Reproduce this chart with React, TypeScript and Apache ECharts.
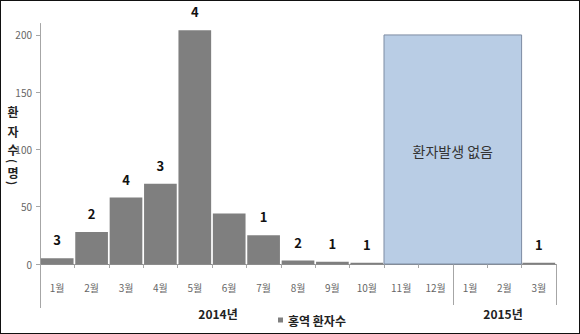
import React, { useEffect, useRef } from "react";
import * as echarts from "echarts";

const months = ["1월", "2월", "3월", "4월", "5월", "6월", "7월", "8월", "9월", "10월", "11월", "12월", "1월", "2월", "3월"];
const patients = [5, 28, 58, 70, 204, 44, 25, 3, 2, 1, 0, 0, 0, 0, 1];
const outbreaks: (number | null)[] = [3, 2, 4, 3, 4, null, 1, 2, 1, 1, null, null, null, null, 1];
const noCaseSpan = [[10, 13, 200]];
const noCaseText = "환자발생 없음";
const years = ["2014년", "2015년"];
const seriesName = "홍역 환자수";
const yAxisNameChars = ["환", "자", "수", "(", "명", ")"];

const W = 580;
const H = 334;
const GL = 40;
const GR = 24;
const GT = 23.5;
const GB = 70;
const KR = "'Noto Sans CJK KR', 'Noto Sans', sans-serif";

export default function App() {
  const ref = useRef<HTMLDivElement>(null);
  useEffect(() => {
    if (!ref.current) return;
    const chart = echarts.init(ref.current, null, { renderer: "svg" });
    const cw = (W - GL - GR) / months.length;
    const axisY = H - GB;
    const sepX = [GL, GL + 12 * cw, W - GR];
    const nameYs = [111, 131, 149, 161, 172, 183];
    chart.setOption({
      animation: false,
      backgroundColor: "#ffffff",
      grid: { left: GL, right: GR, top: GT, bottom: GB },
      legend: {
        left: 278,
        top: 314,
        padding: 0,
        itemWidth: 5,
        itemHeight: 5,
        icon: "rect",
        textStyle: { fontFamily: KR, fontSize: 12, fontWeight: "bold", color: "#222" },
        data: [seriesName],
      },
      xAxis: {
        type: "category",
        data: months,
        axisLine: { show: true, lineStyle: { color: "#8c8c8c", width: 1 } },
        axisTick: { show: true, length: 4, lineStyle: { color: "#a6a6a6" } },
        axisLabel: { fontFamily: KR, fontSize: 10, color: "#666", margin: 18, interval: 0 },
      },
      yAxis: {
        type: "value",
        min: 0,
        max: 210,
        interval: 50,
        axisLine: { show: true, lineStyle: { color: "#a6a6a6" } },
        axisTick: { show: true, length: 4, lineStyle: { color: "#a6a6a6" } },
        axisLabel: { fontFamily: KR, fontSize: 10, color: "#666", margin: 8, showMaxLabel: false },
        splitLine: { show: false },
      },
      series: [
        {
          name: seriesName,
          type: "bar",
          data: patients,
          barCategoryGap: "5%",
          itemStyle: { color: "#7f7f7f" },
          label: {
            show: true,
            position: "top",
            distance: 12,
            fontFamily: KR,
            fontSize: 13,
            fontWeight: "bold",
            color: "#111",
            formatter: (p: any) => {
              const v = outbreaks[p.dataIndex];
              return v == null ? "" : String(v);
            },
          },
        },
        {
          type: "custom",
          data: noCaseSpan,
          encode: { x: [0, 1], y: 2 },
          z: 3,
          renderItem: (params: any, api: any) => {
            const s = api.coord([api.value(0), api.value(2)]);
            const e = api.coord([api.value(1), 0]);
            const bw = api.size([1, 0])[0];
            const x = s[0] - bw / 2;
            const w = e[0] - s[0] + bw;
            const y = s[1];
            const h = e[1] - s[1];
            return {
              type: "group",
              children: [
                {
                  type: "rect",
                  shape: { x, y, width: w, height: h },
                  style: { fill: "#b9cde5", stroke: "#7d8ca3", lineWidth: 1 },
                },
                {
                  type: "text",
                  style: {
                    x: x + w / 2,
                    y: y + h / 2 + 2,
                    text: noCaseText,
                    fontFamily: KR,
                    fontSize: 14,
                    fill: "#333",
                    align: "center",
                    verticalAlign: "middle",
                  },
                },
              ],
            };
          },
        },
      ],
      graphic: [
        ...sepX.map((x) => ({
          type: "line",
          shape: { x1: Math.round(x) + 0.5, y1: axisY, x2: Math.round(x) + 0.5, y2: x === GL ? 308 : 305 },
          style: { stroke: "#a6a6a6", lineWidth: 1 },
        })),
        {
          type: "text",
          x: 218,
          y: 313,
          style: { text: years[0], fontFamily: KR, fontSize: 12, fontWeight: "bold", fill: "#222", align: "center", verticalAlign: "middle" },
        },
        {
          type: "text",
          x: 503,
          y: 313,
          style: { text: years[1], fontFamily: KR, fontSize: 12, fontWeight: "bold", fill: "#222", align: "center", verticalAlign: "middle" },
        },
        ...yAxisNameChars.map((c, i) => {
          const paren = c === "(" || c === ")";
          return {
            type: "text",
            x: 13,
            y: nameYs[i],
            rotation: paren ? -Math.PI / 2 : 0,
            style: {
              text: c,
              fontFamily: KR,
              fontSize: paren ? 11 : 12,
              fontWeight: "bold",
              fill: "#222",
              align: "center",
              verticalAlign: "middle",
            },
          };
        }),
      ],
    });
    return () => chart.dispose();
  }, []);
  return (
    <div style={{ position: "fixed", left: 0, top: 0, width: W, height: H }}>
      <div ref={ref} style={{ width: W, height: H }} />
      <div
        style={{
          position: "absolute",
          left: 0,
          top: 0,
          width: W,
          height: H,
          boxSizing: "border-box",
          border: "1.5px solid #111",
          pointerEvents: "none",
        }}
      />
    </div>
  );
}
